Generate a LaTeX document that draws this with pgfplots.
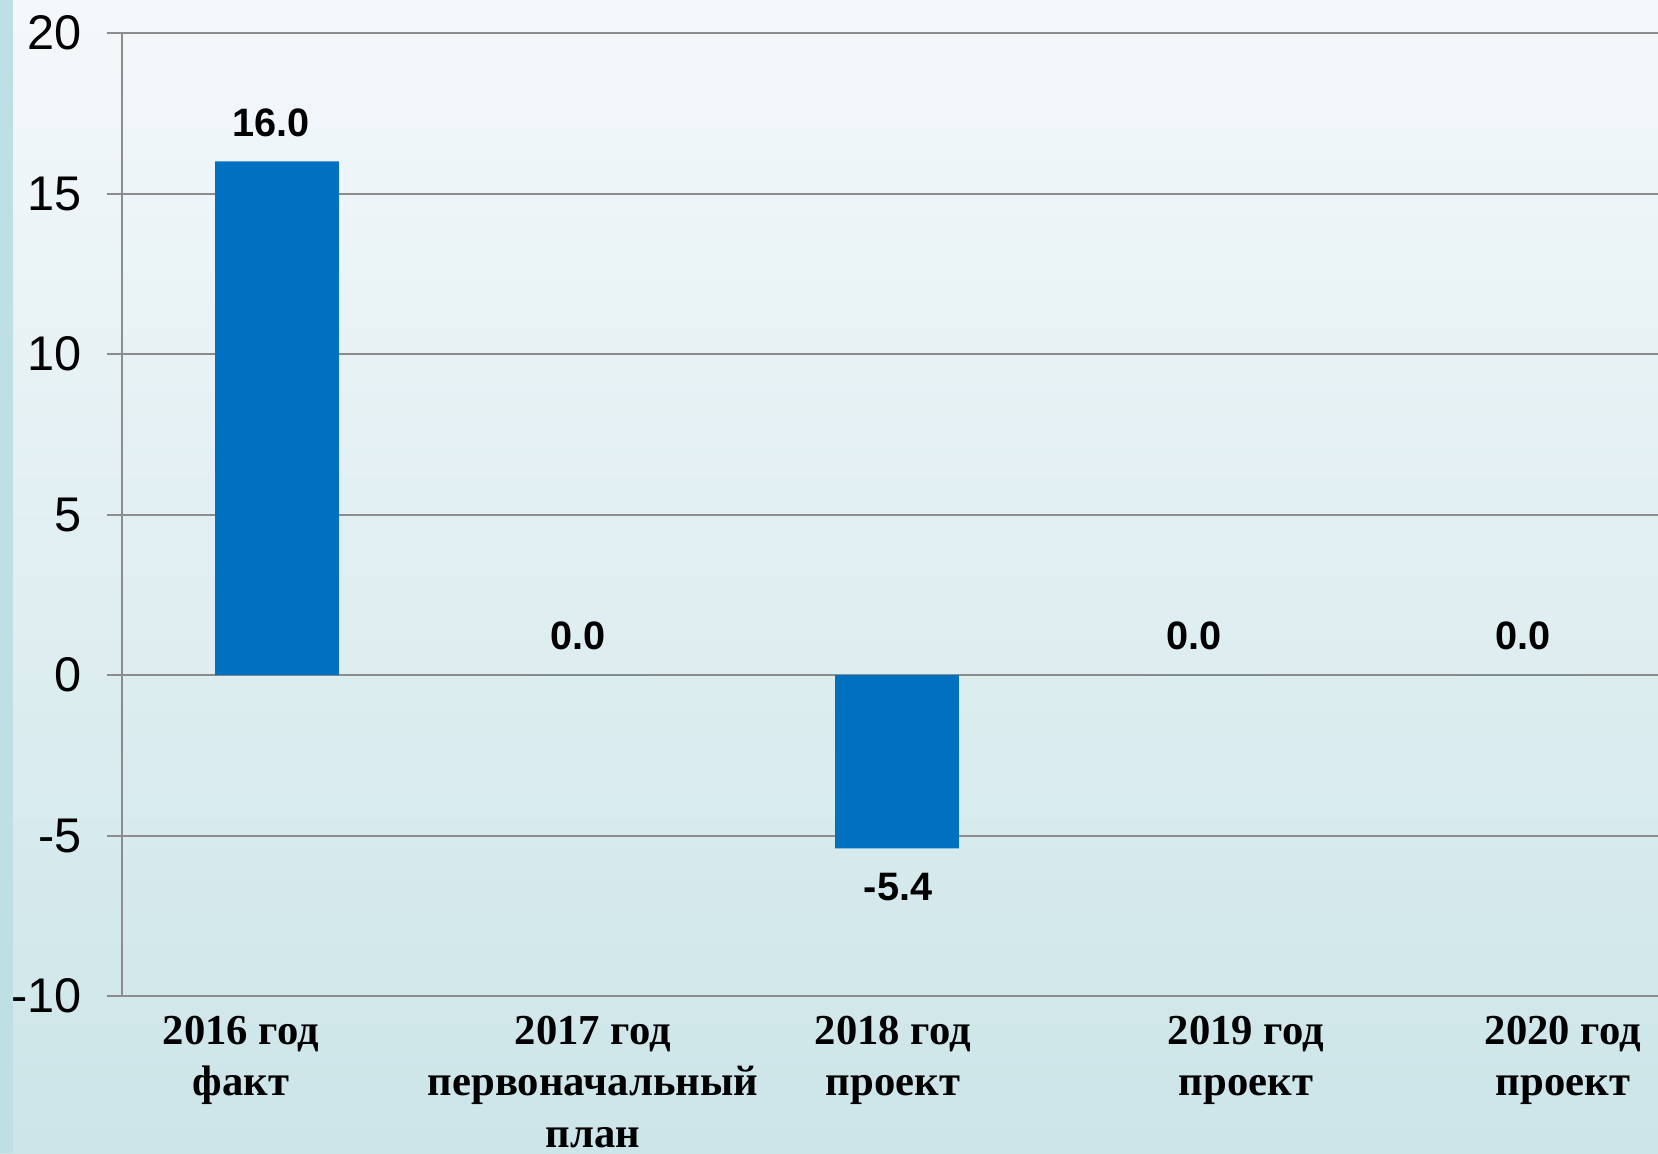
\documentclass[border=0pt]{standalone}
\usepackage{pgfplots}
\pgfplotsset{compat=1.18}
\usepackage{fontspec}
\setmainfont{Liberation Serif}
\newfontfamily\arialfont{Liberation Sans}
\definecolor{barblue}{RGB}{0,112,192}
\definecolor{gridgray}{RGB}{140,140,140}
\definecolor{bgtop}{RGB}{244,248,251}
\definecolor{bgbot}{RGB}{204,229,232}
\definecolor{stripe}{RGB}{190,224,229}
\begin{document}
\begin{tikzpicture}[x=1pt,y=1pt]
\useasboundingbox (0,0) rectangle (497.4,345.9);
\shade[top color=bgtop, bottom color=bgbot] (0,0) rectangle (497.4,345.9);
\fill[stripe] (0,0) rectangle (3.9,345.9);
\begin{axis}[
  at={(36.6pt,47.1pt)}, anchor=south west,
  scale only axis, width=460.8pt, height=288.9pt,
  ymin=-10, ymax=20, ytick={-10,-5,...,20},
  xmin=-0.5, xmax=4.455,
  xtick={0,1,2,3,4},
  xticklabels={{2016 год\\факт},{2017 год\\первоначальный\\план},{2018 год\\проект},{2019 год\\проект},{2020 год\\проект}},
  axis lines*=left,
  axis line style={draw=gridgray, line width=0.6pt},
  ymajorgrids, grid style={draw=gridgray, line width=0.6pt},
  xtick style={draw=none},
  ytick style={draw=gridgray, line width=0.6pt},
  tick align=outside, major tick length=4.5pt,
  /pgf/number format/assume math mode=true,
  yticklabel style={font=\arialfont\fontsize{14.6}{16}\selectfont, xshift=-4pt},
  xticklabel style={font=\bfseries\fontsize{12.8}{15.4}\selectfont, align=center, yshift=2pt,
    xshift={{-10.8,1.8,-1.2,11.7,13.8}[\ticknum]}},
  ybar, bar width=37.1pt,
  nodes near coords,
  nodes near coords style={font=\arialfont\bfseries\fontsize{11.9}{13}\selectfont, text=black,
    inner ysep=7.3pt, xshift={{-1.8,-2.7,0.3,-3.9,1.8}[\coordindex]},
    /pgf/number format/.cd, fixed, fixed zerofill, precision=1, assume math mode=true},
  clip=false,
]
\addplot[fill=barblue, draw=none] coordinates {(0,16.0) (1,0) (2,-5.4) (3,0) (4,0)};
\end{axis}
\end{tikzpicture}
\end{document}
